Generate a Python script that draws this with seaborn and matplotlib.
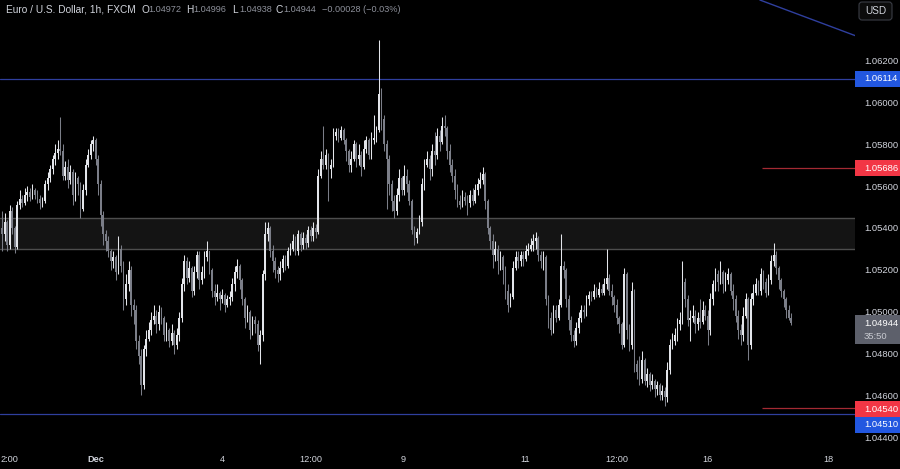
import matplotlib
matplotlib.use("Agg")
import matplotlib.pyplot as plt
import matplotlib.transforms as mtransforms
from matplotlib.patches import Rectangle, FancyBboxPatch
import numpy as np
import pandas as pd
import seaborn as sns

# EUR/USD 1h, FXCM - hourly candles (oldest first)
closes = [
    1.0537, 1.0543, 1.0532, 1.0548, 1.0540, 1.0531, 1.0551, 1.0554, 1.0552, 1.0556,
    1.0557, 1.0555, 1.0558, 1.0556, 1.0554, 1.0552, 1.0553, 1.0561, 1.0564, 1.0568,
    1.0573, 1.0576, 1.0578, 1.0577, 1.0565, 1.0569, 1.0563, 1.0567, 1.0556, 1.0564,
    1.0561, 1.0549, 1.0558, 1.0570, 1.0575, 1.0580, 1.0582, 1.0573, 1.0561, 1.0546,
    1.0537, 1.0534, 1.0529, 1.0524, 1.0526, 1.0519, 1.0530, 1.0522, 1.0506, 1.0513,
    1.0520, 1.0503, 1.0501, 1.0486, 1.0479, 1.0465, 1.0482, 1.0487, 1.0491, 1.0496,
    1.0498, 1.0494, 1.0500, 1.0497, 1.0489, 1.0491, 1.0486, 1.0490, 1.0484, 1.0489,
    1.0497, 1.0513, 1.0524, 1.0516, 1.0521, 1.0510, 1.0519, 1.0527, 1.0515, 1.0519,
    1.0526, 1.0529, 1.0520, 1.0510, 1.0507, 1.0509, 1.0506, 1.0508, 1.0503, 1.0506,
    1.0507, 1.0513, 1.0519, 1.0522, 1.0515, 1.0506, 1.0497, 1.0500, 1.0491, 1.0496,
    1.0494, 1.0484, 1.0489, 1.0518, 1.0537, 1.0540, 1.0529, 1.0524, 1.0520, 1.0518,
    1.0521, 1.0525, 1.0522, 1.0529, 1.0530, 1.0534, 1.0529, 1.0537, 1.0532, 1.0535,
    1.0533, 1.0539, 1.0536, 1.0540, 1.0538, 1.0565, 1.0573, 1.0570, 1.0575, 1.0568,
    1.0570, 1.0584, 1.0586, 1.0583, 1.0587, 1.0582, 1.0577, 1.0570, 1.0573, 1.0580,
    1.0573, 1.0575, 1.0569, 1.0578, 1.0582, 1.0575, 1.0582, 1.0583, 1.0587, 1.0604,
    1.0592, 1.0580, 1.0573, 1.0561, 1.0553, 1.0548, 1.0556, 1.0564, 1.0558, 1.0565,
    1.0561, 1.0553, 1.0539, 1.0535, 1.0538, 1.0543, 1.0561, 1.0570, 1.0573, 1.0568,
    1.0577, 1.0575, 1.0584, 1.0581, 1.0589, 1.0588, 1.0577, 1.0570, 1.0565, 1.0558,
    1.0553, 1.0551, 1.0555, 1.0553, 1.0552, 1.0556, 1.0553, 1.0558, 1.0561, 1.0563,
    1.0566, 1.0553, 1.0540, 1.0534, 1.0527, 1.0530, 1.0524, 1.0526, 1.0520, 1.0510,
    1.0503, 1.0507, 1.0521, 1.0526, 1.0524, 1.0527, 1.0525, 1.0529, 1.0530, 1.0532,
    1.0534, 1.0535, 1.0527, 1.0524, 1.0526, 1.0506, 1.0497, 1.0491, 1.0501, 1.0497,
    1.0503, 1.0522, 1.0520, 1.0506, 1.0496, 1.0489, 1.0486, 1.0492, 1.0497, 1.0501,
    1.0500, 1.0506, 1.0508, 1.0507, 1.0510, 1.0508, 1.0511, 1.0509, 1.0513, 1.0516,
    1.0510, 1.0507, 1.0503, 1.0497, 1.0494, 1.0484, 1.0518, 1.0491, 1.0484, 1.0510,
    1.0475, 1.0471, 1.0468, 1.0477, 1.0467, 1.0470, 1.0465, 1.0467, 1.0463, 1.0465,
    1.0460, 1.0462, 1.0459, 1.0472, 1.0484, 1.0486, 1.0489, 1.0494, 1.0496, 1.0514,
    1.0506, 1.0496, 1.0497, 1.0498, 1.0494, 1.0497, 1.0495, 1.0501, 1.0498, 1.0491,
    1.0506, 1.0513, 1.0518, 1.0514, 1.0519, 1.0513, 1.0515, 1.0518, 1.0510, 1.0506,
    1.0498, 1.0491, 1.0489, 1.0498, 1.0506, 1.0484, 1.0506, 1.0509, 1.0513, 1.0510,
    1.0518, 1.0514, 1.0509, 1.0515, 1.0524, 1.0527, 1.0521, 1.0515, 1.0510, 1.0506,
    1.0501, 1.04972, 1.04944,
]
highs = [
    1.0548, 1.0547, 1.0544, 1.0551, 1.0550, 1.0541, 1.0553, 1.0558, 1.0556, 1.0559,
    1.0560, 1.0559, 1.0561, 1.0559, 1.0558, 1.0556, 1.0555, 1.0563, 1.0567, 1.0570,
    1.0575, 1.0580, 1.0582, 1.0593, 1.0580, 1.0572, 1.0573, 1.0570, 1.0568, 1.0567,
    1.0565, 1.0562, 1.0561, 1.0573, 1.0578, 1.0582, 1.0584, 1.0583, 1.0575, 1.0563,
    1.0548, 1.0539, 1.0536, 1.0530, 1.0529, 1.0527, 1.0536, 1.0532, 1.0524, 1.0518,
    1.0524, 1.0522, 1.0506, 1.0503, 1.0489, 1.0482, 1.0484, 1.0491, 1.0495, 1.0500,
    1.0503, 1.0501, 1.0503, 1.0502, 1.0498, 1.0495, 1.0492, 1.0494, 1.0491, 1.0492,
    1.0500, 1.0516, 1.0527, 1.0526, 1.0524, 1.0522, 1.0522, 1.0529, 1.0529, 1.0522,
    1.0529, 1.0534, 1.0529, 1.0521, 1.0513, 1.0513, 1.0510, 1.0511, 1.0509, 1.0508,
    1.0510, 1.0516, 1.0522, 1.0525, 1.0523, 1.0516, 1.0507, 1.0503, 1.0501, 1.0498,
    1.0498, 1.0496, 1.0491, 1.0520, 1.0543, 1.0543, 1.0541, 1.0532, 1.0526, 1.0522,
    1.0524, 1.0527, 1.0527, 1.0531, 1.0533, 1.0537, 1.0536, 1.0539, 1.0538, 1.0538,
    1.0537, 1.0541, 1.0541, 1.0543, 1.0542, 1.0568, 1.0577, 1.0589, 1.0578, 1.0576,
    1.0573, 1.0588, 1.0588, 1.0588, 1.0589, 1.0588, 1.0583, 1.0578, 1.0577, 1.0582,
    1.0581, 1.0580, 1.0577, 1.0582, 1.0584, 1.0583, 1.0586, 1.0594, 1.0589, 1.0630,
    1.0607, 1.0594, 1.0582, 1.0575, 1.0563, 1.0556, 1.0559, 1.0568, 1.0565, 1.0570,
    1.0568, 1.0563, 1.0554, 1.0541, 1.0540, 1.0546, 1.0564, 1.0573, 1.0577, 1.0575,
    1.0580, 1.0586, 1.0588, 1.0587, 1.0593, 1.0594, 1.0589, 1.0580, 1.0573, 1.0568,
    1.0561, 1.0556, 1.0558, 1.0557, 1.0556, 1.0558, 1.0559, 1.0561, 1.0564, 1.0567,
    1.0569, 1.0567, 1.0554, 1.0541, 1.0537, 1.0534, 1.0532, 1.0529, 1.0527, 1.0522,
    1.0513, 1.0509, 1.0524, 1.0529, 1.0529, 1.0529, 1.0529, 1.0532, 1.0533, 1.0535,
    1.0537, 1.0538, 1.0536, 1.0529, 1.0529, 1.0527, 1.0508, 1.0500, 1.0503, 1.0503,
    1.0506, 1.0537, 1.0524, 1.0521, 1.0508, 1.0498, 1.0491, 1.0495, 1.0500, 1.0503,
    1.0503, 1.0508, 1.0510, 1.0510, 1.0513, 1.0512, 1.0514, 1.0513, 1.0516, 1.0530,
    1.0518, 1.0513, 1.0508, 1.0506, 1.0498, 1.0495, 1.0521, 1.0519, 1.0494, 1.0514,
    1.0511, 1.0477, 1.0479, 1.0481, 1.0478, 1.0473, 1.0471, 1.0470, 1.0468, 1.0467,
    1.0466, 1.0465, 1.0464, 1.0476, 1.0487, 1.0490, 1.0492, 1.0497, 1.0500, 1.0524,
    1.0516, 1.0508, 1.0501, 1.0503, 1.0501, 1.0500, 1.0506, 1.0505, 1.0503, 1.0501,
    1.0509, 1.0515, 1.0521, 1.0520, 1.0524, 1.0520, 1.0519, 1.0521, 1.0519, 1.0513,
    1.0508, 1.0501, 1.0494, 1.0502, 1.0509, 1.0507, 1.0509, 1.0513, 1.0516, 1.0515,
    1.0521, 1.0520, 1.0516, 1.0518, 1.0527, 1.0533, 1.0529, 1.0522, 1.0516, 1.0511,
    1.0507, 1.0503, 1.04996,
]
lows = [
    1.0529, 1.0534, 1.0529, 1.0530, 1.0537, 1.0528, 1.0530, 1.0549, 1.0550, 1.0551,
    1.0553, 1.0553, 1.0554, 1.0554, 1.0552, 1.0549, 1.0550, 1.0552, 1.0558, 1.0562,
    1.0566, 1.0570, 1.0573, 1.0575, 1.0563, 1.0563, 1.0559, 1.0561, 1.0551, 1.0553,
    1.0556, 1.0545, 1.0548, 1.0556, 1.0569, 1.0573, 1.0577, 1.0570, 1.0556, 1.0541,
    1.0532, 1.0529, 1.0526, 1.0520, 1.0521, 1.0515, 1.0518, 1.0519, 1.0501, 1.0503,
    1.0510, 1.0498, 1.0494, 1.0482, 1.0475, 1.0460, 1.0463, 1.0479, 1.0486, 1.0489,
    1.0494, 1.0490, 1.0491, 1.0494, 1.0486, 1.0486, 1.0483, 1.0484, 1.0480, 1.0482,
    1.0486, 1.0495, 1.0510, 1.0513, 1.0514, 1.0507, 1.0508, 1.0516, 1.0511, 1.0513,
    1.0516, 1.0524, 1.0518, 1.0507, 1.0503, 1.0505, 1.0501, 1.0504, 1.0500, 1.0502,
    1.0503, 1.0505, 1.0510, 1.0516, 1.0511, 1.0503, 1.0492, 1.0495, 1.0487, 1.0489,
    1.0490, 1.0481, 1.0475, 1.0486, 1.0515, 1.0534, 1.0526, 1.0519, 1.0516, 1.0514,
    1.0515, 1.0519, 1.0520, 1.0521, 1.0527, 1.0529, 1.0527, 1.0527, 1.0529, 1.0530,
    1.0530, 1.0531, 1.0534, 1.0534, 1.0535, 1.0537, 1.0564, 1.0568, 1.0568, 1.0553,
    1.0564, 1.0569, 1.0582, 1.0581, 1.0582, 1.0580, 1.0572, 1.0567, 1.0567, 1.0572,
    1.0569, 1.0570, 1.0565, 1.0568, 1.0576, 1.0573, 1.0573, 1.0580, 1.0581, 1.0586,
    1.0587, 1.0577, 1.0549, 1.0556, 1.0548, 1.0545, 1.0546, 1.0553, 1.0556, 1.0556,
    1.0557, 1.0551, 1.0537, 1.0532, 1.0533, 1.0537, 1.0541, 1.0558, 1.0569, 1.0563,
    1.0565, 1.0570, 1.0573, 1.0577, 1.0580, 1.0584, 1.0573, 1.0567, 1.0562, 1.0554,
    1.0550, 1.0549, 1.0550, 1.0551, 1.0546, 1.0550, 1.0551, 1.0552, 1.0556, 1.0559,
    1.0561, 1.0549, 1.0537, 1.0530, 1.0521, 1.0524, 1.0518, 1.0520, 1.0513, 1.0506,
    1.0500, 1.0502, 1.0506, 1.0520, 1.0521, 1.0522, 1.0522, 1.0524, 1.0527, 1.0529,
    1.0529, 1.0530, 1.0524, 1.0521, 1.0520, 1.0503, 1.0492, 1.0489, 1.0490, 1.0495,
    1.0496, 1.0502, 1.0516, 1.0502, 1.0491, 1.0486, 1.0483, 1.0484, 1.0490, 1.0495,
    1.0497, 1.0498, 1.0503, 1.0505, 1.0506, 1.0507, 1.0507, 1.0508, 1.0508, 1.0511,
    1.0508, 1.0503, 1.0500, 1.0494, 1.0490, 1.0482, 1.0483, 1.0487, 1.0481, 1.0482,
    1.0471, 1.0468, 1.0465, 1.0466, 1.0465, 1.0464, 1.0462, 1.0463, 1.0459, 1.0460,
    1.0458, 1.0458, 1.0455, 1.0457, 1.0470, 1.0482, 1.0484, 1.0486, 1.0491, 1.0494,
    1.0502, 1.0493, 1.0486, 1.0495, 1.0490, 1.0491, 1.0492, 1.0494, 1.0496, 1.0484,
    1.0489, 1.0503, 1.0510, 1.0510, 1.0513, 1.0509, 1.0510, 1.0513, 1.0508, 1.0501,
    1.0495, 1.0487, 1.0484, 1.0486, 1.0497, 1.0477, 1.0482, 1.0503, 1.0508, 1.0508,
    1.0508, 1.0511, 1.0507, 1.0508, 1.0513, 1.0522, 1.0518, 1.0511, 1.0507, 1.0502,
    1.0497, 1.0496, 1.04938,
]
first_open = 1.0540

# drawings on the chart
zone_low, zone_high = 1.05300, 1.05448
blue_levels = [1.06114, 1.04510]
red_levels = [1.05686, 1.04540]
red_ray_start = 300.4          # bar index where the red rays begin
trend_bars = [299.6, 337.2]
trend_prices = [1.0649, 1.0632]

price_ticks = [1.044, 1.046, 1.048, 1.050, 1.052, 1.054, 1.056, 1.058, 1.060, 1.062]
# the first label is cut by the left edge in the screenshot, only "2:00" shows
time_pos = [3.0, 37, 87, 122, 158.5, 207, 243, 279, 326.5]
time_labels = ["2:00", "Dec", "4", "12:00", "9", "11", "12:00", "16", "18"]

last_price = 1.04944
countdown = "35:50"
header_title = "Euro / U.S. Dollar, 1h, FXCM"
header_ohlc = [("O", "1.04972"), ("H", "1.04996"), ("L", "1.04938"), ("C", "1.04944")]
header_change = "\u22120.00028 (\u22120.03%)"

# colours
BG = "#000000"
UP = "#e3e5ea"
DOWN = "#7b7e88"
TXT = "#d1d4dc"
BLUE_LINE = "#2f3f9e"
BLUE_TAG = "#2257e0"
RED_LINE = "#a42a33"
RED_TAG = "#f23645"

sns.set_theme(style="dark", rc={
    "axes.facecolor": BG,
    "figure.facecolor": BG,
    "savefig.facecolor": BG,
    "axes.grid": False,
})
plt.rcParams["font.family"] = ["Liberation Sans", "DejaVu Sans"]

df = pd.DataFrame({"close": closes, "high": highs, "low": lows})
df["open"] = df["close"].shift(1).fillna(first_open)
df["bar"] = np.arange(len(df))

W, H = 900, 469
fig = plt.figure(figsize=(W / 100, H / 100), dpi=100)
ax = fig.add_axes([0, 22 / H, 855 / W, 447 / H])
ax.set_xlim(-0.8, 337.2)
ax.set_ylim(1.04353, 1.0649)

# zone
ax.axhspan(zone_low, zone_high, color="#141414", zorder=0, lw=0)
for lvl in (zone_low, zone_high):
    ax.axhline(lvl, color="#4d4d4d", lw=1.0, zorder=1)

# horizontal levels
for lvl in blue_levels:
    ax.axhline(lvl, color=BLUE_LINE, lw=0.9, zorder=1)
for lvl in red_levels:
    ax.hlines(lvl, red_ray_start, 337.2, color=RED_LINE, lw=0.9, zorder=1)
ax.plot(trend_bars, trend_prices, color=BLUE_LINE, lw=1.0, zorder=1)

# candles
up = df["close"] >= df["open"]
colors = np.where(up, UP, DOWN)
body_lo = np.minimum(df["open"], df["close"])
body_hi = np.maximum(df["open"], df["close"])
ax.vlines(df["bar"], np.minimum(df["low"], body_lo), np.maximum(df["high"], body_hi),
          colors=colors, lw=0.75, zorder=3)
ax.bar(df["bar"], np.maximum(body_hi - body_lo, 0.00003), bottom=body_lo,
       width=0.66, color=colors, linewidth=0, zorder=4)

# axes styling
for s in ax.spines.values():
    s.set_visible(False)
ax.yaxis.tick_right()
ax.set_yticks(price_ticks)
ax.set_yticklabels([f"{t:.5f}" for t in price_ticks])
ax.tick_params(axis="y", length=0, pad=6.5, labelsize=6.8, labelcolor=TXT)
ax.set_xticks(time_pos)
ax.set_xticklabels(time_labels)
ax.tick_params(axis="x", length=0, pad=5.5, labelsize=6.6, labelcolor=TXT)
ax.get_xticklabels()[1].set_fontweight("bold")
ax.set_xlabel("")
ax.set_ylabel("")

# price tags on the right scale (pixel coordinates)
ident = mtransforms.IdentityTransform()


def y_px(price):
    return ax.transData.transform((0, price))[1]


def price_tag(price, face, dy=0.0, h=16):
    yc = y_px(price) + dy
    fig.add_artist(Rectangle((855, yc - h / 2), 45, h, transform=ident,
                             facecolor=face, edgecolor="none", zorder=5))
    fig.text(864, yc, f"{price:.5f}", transform=ident, color="white",
             fontsize=6.8, va="center", ha="left", zorder=6)


price_tag(blue_levels[0], BLUE_TAG)
price_tag(red_levels[0], RED_TAG)
price_tag(red_levels[1], RED_TAG, dy=-1.5)
price_tag(blue_levels[1], BLUE_TAG, dy=-10.5)

yl = y_px(last_price)
fig.add_artist(Rectangle((855, yl - 20.5), 45, 29, transform=ident,
                         facecolor="#5d606b", edgecolor="none", zorder=5))
fig.text(864, yl, f"{last_price:.5f}", transform=ident, color="white",
         fontsize=6.8, va="center", ha="left", zorder=6)
fig.text(864, yl - 13.5, countdown, transform=ident, color="#c8cad0",
         fontsize=6.8, va="center", ha="left", zorder=6)

# USD button
fig.add_artist(FancyBboxPatch((859, H - 20), 33, 18, transform=ident,
                              boxstyle="round,pad=0,rounding_size=3",
                              facecolor="#0c0c0c", edgecolor="#3a3d45", lw=0.8, zorder=5))
fig.text(875.5, H - 11, "USD", transform=ident, color=TXT, fontsize=7.2,
         ha="center", va="center", zorder=6)

# header
hy = H - 9.5
fig.text(6, hy, header_title, transform=ident, color=TXT, fontsize=7.3, va="center")
letter_x = [141, 186, 232, 276]
for (letter, val), x in zip(header_ohlc, letter_x):
    fig.text(x, hy, letter, transform=ident, color=TXT, fontsize=7.3, va="center")
    fig.text(x + 7.5, hy, val, transform=ident, color="#8d909a", fontsize=6.6, va="center")
fig.text(322, hy, header_change, transform=ident, color="#8d909a", fontsize=6.6, va="center")

fig.savefig("out.png", dpi=100, facecolor=BG)
